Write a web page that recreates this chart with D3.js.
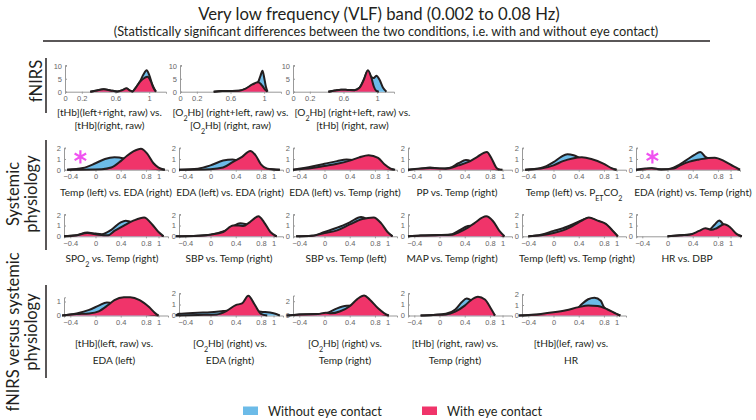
<!DOCTYPE html>
<html><head><meta charset="utf-8">
<script src="https://cdn.jsdelivr.net/npm/d3@7"></script>
<style>
body{margin:0;background:#fff;}
svg{display:block;}
.lbl{font-family:Lato,"Open Sans",sans-serif;fill:#231f20;}
.tick text{font-family:"Liberation Sans",Arial,sans-serif;fill:#666;font-size:7.5px;}
</style></head>
<body><svg id="c" width="756" height="420"></svg>
<script>
// ---------------- DATA ----------------
const mainTitle = "Very low frequency (VLF) band (0.002 to 0.08 Hz)";
const subTitle = "(Statistically significant differences between the two conditions, i.e. with and without eye contact)";
const groupLabels = [["fNIRS"], ["Systemic", "physiology"], ["fNIRS versus systemic", "physiology"]];
const legendLabels = ["Without eye contact", "With eye contact"];

const fnirsXTicks = [0, 0.2, 0.6, 1];
const fnirsYTicks = [0, 5, 10];
const physXTicks = [-0.4, 0, 0.4, 0.8, 1];

// fNIRS row
const fnirsTitles = [
  ["[tHb](left+right, raw) vs.", "[tHb](right, raw)"],
  ["[O_{2}Hb] (right+left, raw) vs.", "[O_{2}Hb] (right, raw)"],
  ["[O_{2}Hb] (right+left, raw) vs.", "[tHb] (right, raw)"]
];
const fnirsWithout = [
  [[0.3,0],[0.38,0.5],[0.46,0.9],[0.54,0.5],[0.62,0.1],[0.68,0.5],[0.73,1.1],[0.77,0.4],[0.8,0.1],[0.84,1.5],[0.89,3.9],[0.93,6.5],[0.97,8.3],[1.0,6.5],[1.04,2.5],[1.08,0]],
  [[0.4,0],[0.5,0.25],[0.6,0.3],[0.7,0.4],[0.78,1.1],[0.86,2.5],[0.92,3.3],[0.955,6],[0.98,8.1],[1.0,5.5],[1.02,2],[1.04,0]],
  [[0.42,0],[0.5,0.5],[0.57,0.8],[0.65,0.7],[0.73,0.6],[0.79,1.5],[0.84,4.5],[0.89,8.1],[0.93,5.6],[0.96,5.3],[0.99,6.2],[1.03,4.5],[1.07,1.5],[1.11,0]]
];
const fnirsWith = [
  [[0.3,0],[0.38,0.5],[0.46,0.9],[0.54,0.5],[0.62,0.1],[0.68,0.6],[0.73,1.3],[0.77,0.5],[0.8,0.1],[0.84,1.5],[0.89,3.8],[0.94,5.2],[0.98,5.8],[1.02,4],[1.05,1.5],[1.08,0]],
  [[0.4,0],[0.5,0.25],[0.6,0.3],[0.7,0.4],[0.78,1.2],[0.86,2.8],[0.93,3.6],[0.98,2.2],[1.01,0.8],[1.04,0]],
  [[0.42,0],[0.5,0.5],[0.57,0.8],[0.65,0.7],[0.73,0.6],[0.79,1.5],[0.84,4.5],[0.89,8.3],[0.93,5.5],[0.96,2],[0.99,0.3],[1.02,0]]
];

// Systemic physiology, first row
const sys1Titles = [
  ["Temp (left) vs. EDA (right)"], ["EDA (left) vs. EDA (right)"], ["EDA (left) vs. Temp (right)"],
  ["PP vs. Temp (right)"], ["Temp (left) vs. P_{ET}CO_{2}"], ["EDA (right) vs. Temp (right)"]
];
const sys1Significant = [true, false, false, false, false, true];
const sys1Without = [
  [[-0.45,0],[-0.2,0.15],[0,0.6],[0.15,1.0],[0.3,1.15],[0.45,1.05],[0.6,0.6],[0.8,0.2],[1.0,0.05],[1.1,0]],
  [[-0.5,0],[-0.2,0.1],[0,0.4],[0.2,0.85],[0.35,0.95],[0.5,0.7],[0.65,0.4],[0.8,0.15],[1.0,0.03],[1.1,0]],
  [[-0.5,0],[-0.2,0.3],[0,0.55],[0.2,0.8],[0.35,0.95],[0.45,0.9],[0.6,0.6],[0.8,0.3],[1.0,0.08],[1.1,0]],
  [[-0.5,0],[-0.3,0.1],[-0.15,0.2],[0,0.1],[0.15,0.15],[0.3,0.6],[0.42,0.9],[0.5,0.8],[0.6,0.5],[0.75,0.25],[0.9,0.05],[1.0,0]],
  [[-0.45,0],[-0.2,0.15],[0,0.7],[0.12,1.2],[0.22,1.45],[0.32,1.35],[0.45,1.0],[0.6,0.7],[0.8,0.35],[0.95,0.05],[1.0,0]],
  [[-0.5,0],[-0.35,0.05],[-0.25,0.13],[-0.15,0.05],[0,0.05],[0.15,0.35],[0.3,0.9],[0.42,1.35],[0.52,1.65],[0.6,1.2],[0.7,0.9],[0.85,0.5],[1.0,0.2],[1.15,0]]
];
const sys1With = [
  [[-0.45,0],[0.1,0.05],[0.25,0.2],[0.4,0.8],[0.5,1.3],[0.6,1.7],[0.72,1.95],[0.82,1.5],[0.92,0.6],[1.0,0.2],[1.1,0]],
  [[-0.5,0],[0,0.05],[0.2,0.2],[0.35,0.7],[0.5,1.2],[0.63,1.75],[0.72,1.3],[0.8,0.5],[0.9,0.1],[1.1,0]],
  [[-0.5,0],[-0.2,0.15],[0,0.35],[0.2,0.55],[0.4,0.85],[0.55,1.15],[0.7,1.35],[0.85,1.1],[0.95,0.5],[1.05,0.1],[1.12,0]],
  [[-0.5,0],[-0.15,0.15],[0.1,0.1],[0.3,0.4],[0.45,0.7],[0.6,1.2],[0.75,1.65],[0.83,1.0],[0.9,0.2],[0.95,0]],
  [[-0.45,0],[-0.2,0.1],[0,0.4],[0.15,0.8],[0.3,1.05],[0.45,1.15],[0.6,1.0],[0.8,0.55],[0.92,0.15],[1.0,0]],
  [[-0.5,0],[-0.25,0.13],[-0.1,0.03],[0.1,0.1],[0.2,0.4],[0.35,0.75],[0.5,0.95],[0.65,1.1],[0.75,1.12],[0.9,0.8],[1.05,0.3],[1.15,0]]
];

// Systemic physiology, second row
const sys2Titles = [
  ["SPO_{2} vs. Temp (right)"], ["SBP vs. Temp (right)"], ["SBP vs. Temp (left)"],
  ["MAP vs. Temp (right)"], ["Temp (left) vs. Temp (right)"], ["HR vs. DBP"]
];
const sys2Without = [
  [[-0.5,0],[-0.3,0.1],[-0.13,0.35],[0,0.25],[0.1,0.2],[0.25,0.6],[0.4,1.3],[0.48,1.45],[0.55,1.35],[0.7,1.2],[0.85,0.8],[1.0,0.2],[1.08,0]],
  [[-0.55,0],[-0.2,0.05],[0,0.15],[0.2,0.45],[0.35,0.9],[0.47,1.2],[0.55,1.15],[0.65,1.0],[0.8,0.6],[0.95,0.2],[1.05,0]],
  [[-0.45,0],[-0.2,0.05],[0,0.4],[0.2,0.8],[0.4,1.3],[0.58,1.8],[0.7,1.5],[0.85,0.9],[1.0,0.3],[1.08,0]],
  [[-0.5,0],[-0.3,0.08],[0,0.12],[0.2,0.2],[0.3,0.5],[0.45,0.95],[0.55,1.0],[0.7,0.9],[0.85,0.4],[1.0,0.05],[1.03,0]],
  [[-0.4,0],[-0.2,0.15],[0,0.5],[0.15,0.75],[0.3,1.1],[0.45,1.5],[0.56,1.7],[0.7,1.4],[0.83,1.1],[0.95,0.4],[1.02,0]],
  [[0.0,0],[0.2,0.1],[0.4,0.2],[0.55,0.3],[0.65,0.5],[0.75,1.1],[0.82,1.47],[0.9,1.0],[1.0,0.5],[1.1,0.15],[1.18,0]]
];
const sys2With = [
  [[-0.5,0],[-0.3,0.1],[-0.13,0.3],[0.05,0.15],[0.2,0.1],[0.3,0.5],[0.45,1.0],[0.6,1.45],[0.77,1.75],[0.9,1.1],[1.0,0.4],[1.08,0]],
  [[-0.55,0],[-0.2,0.05],[0,0.15],[0.2,0.4],[0.36,1.0],[0.45,1.0],[0.52,0.95],[0.62,1.3],[0.76,1.85],[0.85,1.3],[0.95,0.4],[1.05,0]],
  [[-0.45,0],[-0.2,0.05],[0,0.3],[0.2,0.55],[0.4,1.1],[0.6,1.6],[0.78,1.75],[0.9,1.2],[1.0,0.4],[1.08,0]],
  [[-0.5,0],[-0.3,0.08],[0,0.12],[0.2,0.15],[0.3,0.35],[0.45,0.8],[0.55,1.2],[0.74,1.85],[0.85,1.4],[0.95,0.5],[1.03,0]],
  [[-0.4,0],[-0.2,0.1],[0,0.3],[0.15,0.55],[0.3,0.95],[0.45,1.45],[0.56,1.75],[0.7,1.45],[0.83,1.15],[0.95,0.45],[1.02,0]],
  [[0.0,0],[0.2,0.1],[0.35,0.15],[0.5,0.5],[0.6,0.75],[0.7,0.6],[0.78,0.75],[0.9,1.12],[1.0,0.8],[1.1,0.2],[1.18,0]]
];

// fNIRS versus systemic physiology
const mixTitles = [
  ["[tHb](left, raw) vs.", "EDA (left)"], ["[O_{2}Hb] (right) vs.", "EDA (right)"],
  ["[O_{2}Hb] (right) vs.", "Temp (right)"], ["[tHb] (right, raw) vs.", "Temp (right)"],
  ["[tHb](lef, raw) vs.", "HR"]
];
const mixYMax = [1.3, 2.05, 2.8, 2.05, 2.05];
const mixYTicks = [[0, 1], [0, 1, 2], [0, 2], [0, 1, 2], [0, 1, 2]];
const mixWithout = [
  [[-0.53,0],[-0.3,0.15],[-0.1,0.4],[0.05,0.7],[0.18,0.93],[0.28,0.85],[0.4,0.6],[0.6,0.3],[0.8,0.1],[1.0,0]],
  [[-0.55,0],[-0.5,0.15],[-0.2,0.25],[0,0.3],[0.2,0.4],[0.4,0.5],[0.6,0.5],[0.8,0.35],[1.0,0.2],[1.1,0]],
  [[-0.6,0],[-0.4,0.15],[-0.1,0.2],[0.05,0.4],[0.2,1.0],[0.35,1.35],[0.48,1.4],[0.6,1.2],[0.75,0.6],[0.9,0.2],[1.02,0]],
  [[-0.3,0],[-0.1,0.05],[0.1,0.15],[0.25,0.55],[0.35,1.2],[0.43,1.55],[0.5,1.4],[0.6,1.2],[0.75,0.6],[0.88,0]],
  [[-0.55,0],[-0.2,0.1],[0,0.2],[0.2,0.3],[0.35,0.5],[0.45,1.1],[0.55,1.55],[0.65,1.7],[0.75,1.4],[0.8,0.8],[0.9,0.4],[1.06,0]]
];
const mixWith = [
  [[-0.53,0],[-0.3,0.1],[-0.1,0.15],[0.05,0.3],[0.2,0.75],[0.3,1.1],[0.45,1.3],[0.55,1.3],[0.7,1.1],[0.85,0.6],[0.95,0.15],[1.0,0]],
  [[-0.55,0],[-0.2,0.05],[0.1,0.1],[0.25,0.4],[0.4,0.95],[0.5,1.1],[0.6,1.8],[0.7,1.0],[0.8,0.15],[0.9,0]],
  [[-0.6,0],[-0.4,0.15],[-0.1,0.2],[0.02,0.4],[0.1,0.3],[0.25,0.6],[0.4,1.3],[0.52,2.3],[0.63,2.8],[0.72,2.2],[0.85,1.0],[0.95,0.3],[1.02,0]],
  [[-0.3,0],[-0.1,0.05],[0.1,0.1],[0.25,0.35],[0.4,0.9],[0.5,1.4],[0.61,1.7],[0.72,1.45],[0.82,0.6],[0.88,0]],
  [[-0.55,0],[-0.2,0.15],[0,0.3],[0.2,0.5],[0.4,0.8],[0.55,0.95],[0.7,0.9],[0.85,0.6],[1.0,0.15],[1.06,0]]
];

// ---------------- DRAWING ----------------
const BLUE = "#6cbbe8", RED = "#f0346a", INK = "#231f20", AXIS = "#999";
const svg = d3.select("#c");

// font size that makes a text span a given width
function fitSize(str, targetW, base = 20) {
  const t = svg.append("text").attr("class", "lbl").attr("font-size", base).text(str);
  const w = t.node().getComputedTextLength();
  t.remove();
  return base * targetW / w;
}
const fnirsLabelSize = Math.min(10.5, fitSize("[tHb](left+right, raw) vs.", 105));
const physLabelSize = Math.min(11, fitSize("Temp (left) vs. EDA (right)", 112));

function addRich(textSel, str) {
  const parts = str.split(/(_\{[^}]*\})/);
  parts.forEach(p => {
    if (!p) return;
    const m = p.match(/^_\{([^}]*)\}$/);
    if (m) textSel.append("tspan").attr("baseline-shift", "sub").attr("font-size", "70%").text(m[1]);
    else textSel.append("tspan").text(p);
  });
}

function drawPanel(cfg) {
  const g = svg.append("g");
  const x = d3.scaleLinear().domain(cfg.xDomain).range([cfg.left, cfg.left + cfg.width]);
  const y = d3.scaleLinear().domain([0, cfg.yMax]).range([cfg.base, cfg.top]);
  const fmt = d3.format("");
  const xa = g.append("g").attr("transform", `translate(0,${cfg.base})`)
    .call(d3.axisBottom(x).tickValues(cfg.xTicks).tickSize(2).tickPadding(2).tickFormat(fmt));
  const ya = g.append("g").attr("transform", `translate(${cfg.left},0)`)
    .call(d3.axisLeft(y).tickValues(cfg.yTicks).tickSize(-2).tickPadding(3).tickFormat(fmt));
  [xa, ya].forEach(a => {
    a.select(".domain").attr("stroke", AXIS).attr("stroke-width", 1);
    a.selectAll(".tick line").attr("stroke", AXIS);
  });
  ya.selectAll(".tick text").attr("x", -3);
  const area = d3.area().x(d => x(d[0])).y0(y(0)).y1(d => y(d[1])).curve(d3.curveMonotoneX);
  const line = d3.line().x(d => x(d[0])).y(d => y(d[1])).curve(d3.curveMonotoneX);
  [[cfg.without, BLUE], [cfg.with, RED]].forEach(([data, col]) => {
    g.append("path").datum(data).attr("d", area).attr("fill", col);
    g.append("path").datum(data).attr("d", line).attr("fill", "none")
      .attr("stroke", INK).attr("stroke-width", 2).attr("stroke-linejoin", "round");
  });
  if (cfg.star) {
    g.append("path").attr("d", d3.symbol(d3.symbolAsterisk, 125)())
      .attr("transform", `translate(${x(-0.24)},${y(1.2)})`)
      .attr("fill", "none").attr("stroke", "#f052f0").attr("stroke-width", 2.2);
  }
  cfg.title.forEach((t, i) => {
    const tx = svg.append("text").attr("class", "lbl")
      .attr("x", cfg.left + cfg.width / 2 + (cfg.labelDx || 0))
      .attr("y", cfg.labelY + i * cfg.labelGap)
      .attr("text-anchor", "middle").attr("font-size", cfg.labelSize).attr("dy", "0.35em");
    addRich(tx, t);
  });
}

// fNIRS row
const fnirsLefts = [65, 180, 293];
const fnirsLabelDx = [-6, 0, 9];
fnirsTitles.forEach((t, i) => drawPanel({
  left: fnirsLefts[i], width: 101, xDomain: [0, 1.2], base: 91.7, top: 65, yMax: 10.3,
  xTicks: fnirsXTicks, yTicks: fnirsYTicks, without: fnirsWithout[i], with: fnirsWith[i],
  title: t, labelY: 112, labelGap: 13, labelDx: fnirsLabelDx[i], labelSize: fnirsLabelSize
}));

const physLefts = [64, 179, 293, 408, 522, 636];
const sys1LabelDx = [0, -1, 0, -3, 0, 5];
sys1Titles.forEach((t, i) => drawPanel({
  left: physLefts[i], width: 104, xDomain: [-0.5, 1.15], base: 169.7, top: 147.5, yMax: 2.07,
  xTicks: physXTicks, yTicks: [0, 1, 2], without: sys1Without[i], with: sys1With[i],
  title: t, labelY: 192, labelGap: 13, star: sys1Significant[i], labelDx: sys1LabelDx[i], labelSize: physLabelSize
}));
const sys2LabelDx = [-4, -2, 1, -8, 3, -1];
sys2Titles.forEach((t, i) => drawPanel({
  left: physLefts[i], width: 104, xDomain: [-0.5, 1.15], base: 236.3, top: 214, yMax: 2.07,
  xTicks: physXTicks, yTicks: [0, 1, 2], without: sys2Without[i], with: sys2With[i],
  title: t, labelY: 258, labelGap: 13, labelDx: sys2LabelDx[i], labelSize: physLabelSize
}));
const mixTops = [297.3, 293, 295.5, 293, 294];
const mixLabelDx = [-2, -1, 0, -5, -3];
mixTitles.forEach((t, i) => drawPanel({
  left: physLefts[i], width: 104, xDomain: [-0.5, 1.15], base: 315.5, top: mixTops[i], yMax: mixYMax[i],
  xTicks: physXTicks, yTicks: mixYTicks[i], without: mixWithout[i], with: mixWith[i],
  title: t, labelY: 343, labelGap: 17, labelDx: mixLabelDx[i], labelSize: physLabelSize
}));

// titles
svg.append("text").attr("class", "lbl").attr("x", 379).attr("y", 19.5).attr("text-anchor", "middle")
  .attr("font-size", fitSize(mainTitle, 362)).text(mainTitle);
svg.append("text").attr("class", "lbl").attr("x", 386).attr("y", 35.5).attr("text-anchor", "middle")
  .attr("font-size", fitSize(subTitle, 545)).text(subTitle);
svg.append("line").attr("x1", 43).attr("x2", 710).attr("y1", 41).attr("y2", 41)
  .attr("stroke", INK).attr("stroke-width", 1.5);

// group labels
const groupGeom = [{cy: 81, y0: 58, y1: 113}, {cy: 194, y0: 140, y1: 250}, {cy: 332, y0: 285, y1: 378}];
groupLabels.forEach((lines, i) => {
  const gm = groupGeom[i];
  lines.forEach((s, j) => {
    const cx = lines.length === 1 ? 36 : (j === 0 ? 13 : 31);
    svg.append("text").attr("class", "lbl").attr("font-size", 16.5)
      .attr("text-anchor", "middle").attr("dy", "0.35em")
      .attr("transform", `translate(${cx},${gm.cy}) rotate(-90)`).text(s);
  });
  svg.append("line").attr("x1", 46).attr("x2", 46).attr("y1", gm.y0).attr("y2", gm.y1)
    .attr("stroke", INK).attr("stroke-width", 1.5);
});

// legend
const legX = [243, 422];
const legSize = fitSize(legendLabels[0], 114);
[BLUE, RED].forEach((c, i) => {
  svg.append("rect").attr("x", legX[i]).attr("y", 406.5).attr("width", 15).attr("height", 8.5).attr("fill", c);
  svg.append("text").attr("class", "lbl").attr("x", legX[i] + 25).attr("y", 415.5)
    .attr("font-size", legSize).text(legendLabels[i]);
});
</script>
</body></html>
